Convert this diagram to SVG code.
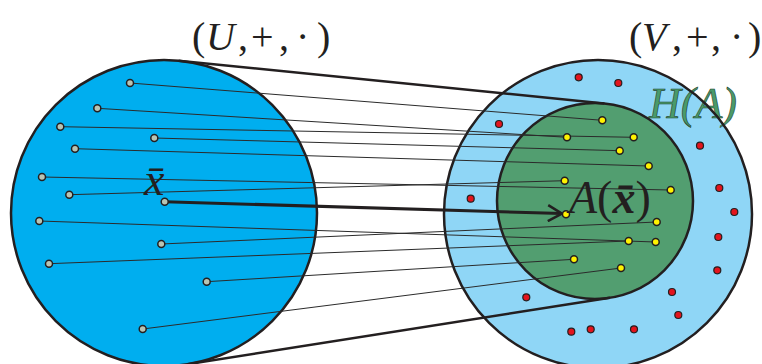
<svg xmlns="http://www.w3.org/2000/svg" width="762" height="364" viewBox="0 0 762 364">
<style>
.ol{fill:none;stroke:#231f20;stroke-width:2.5}
.ln{stroke:#2b2b2b;stroke-width:1;fill:none}
.tl{stroke:#231f20;stroke-width:2.5;fill:none}
.g{fill:#b8c4b4;stroke:#231f20;stroke-width:1.5}
.y{fill:#fff200;stroke:#231f20;stroke-width:1.5}
.r{fill:#e3141c;stroke:#231f20;stroke-width:1.2}
.t{font-family:"Liberation Serif","Times New Roman",serif;fill:#231f20}
.i{font-style:italic}
</style>
<defs>
<marker id="ah" viewBox="0 0 16 18" refX="15" refY="9" markerWidth="16" markerHeight="18" markerUnits="userSpaceOnUse" orient="auto">
<path d="M1,1 L15,9 L1,17" fill="none" stroke="#231f20" stroke-width="2.5"/>
</marker>
</defs>
<g id="U-fill"><circle cx="164" cy="213" r="153" fill="#00aeef"/></g>
<g id="V-fill"><circle cx="598" cy="214" r="154" fill="#8fd6f6"/></g>
<g id="HA-fill"><circle cx="595" cy="201" r="98" fill="#529e70"/></g>
<text class="t i" x="649" y="118" font-size="44" style="fill:#4a9a6a;stroke:#1d3b29;stroke-width:0.6">H(A)</text>
<g id="outlines">
<circle class="ol" cx="164" cy="213" r="153"/>
<circle class="ol" cx="598" cy="214" r="154"/>
<circle class="ol" cx="595" cy="201" r="98"/>
</g>
<g id="connectors">
<line class="tl" x1="178.7" y1="60.7" x2="604.4" y2="103.5"/>
<line class="tl" x1="187.7" y1="364.2" x2="610" y2="297.8"/>
<line class="ln" x1="130" y1="83" x2="602.3" y2="120.3"/>
<line class="ln" x1="97.3" y1="108.3" x2="567" y2="137.3"/>
<line class="ln" x1="60.3" y1="126.7" x2="633.7" y2="137.3"/>
<line class="ln" x1="154.3" y1="138" x2="619.7" y2="150.7"/>
<line class="ln" x1="75" y1="148.7" x2="648.7" y2="166"/>
<line class="ln" x1="42" y1="177" x2="670.7" y2="190"/>
<line class="ln" x1="69.3" y1="194.7" x2="564.7" y2="180.7"/>
<line class="ln" x1="39.3" y1="221" x2="655.7" y2="242"/>
<line class="ln" x1="161.3" y1="244" x2="656.7" y2="222"/>
<line class="ln" x1="49" y1="263.7" x2="628.7" y2="241"/>
<line class="ln" x1="206.7" y1="281.7" x2="574" y2="259.3"/>
<line class="ln" x1="142.7" y1="329" x2="621" y2="268"/>
<line stroke="#231f20" stroke-width="3" x1="164.7" y1="201.7" x2="562" y2="213.6" marker-end="url(#ah)"/>
</g>
<g id="U-points">
<circle class="g" cx="130" cy="83" r="3.5"/>
<circle class="g" cx="97.3" cy="108.3" r="3.5"/>
<circle class="g" cx="60.3" cy="126.7" r="3.5"/>
<circle class="g" cx="154.3" cy="138" r="3.5"/>
<circle class="g" cx="75" cy="148.7" r="3.5"/>
<circle class="g" cx="42" cy="177" r="3.5"/>
<circle class="g" cx="69.3" cy="194.7" r="3.5"/>
<circle class="g" cx="164.7" cy="201.7" r="3.5"/>
<circle class="g" cx="39.3" cy="221" r="3.5"/>
<circle class="g" cx="161.3" cy="244" r="3.5"/>
<circle class="g" cx="49" cy="263.7" r="3.5"/>
<circle class="g" cx="206.7" cy="281.7" r="3.5"/>
<circle class="g" cx="142.7" cy="329" r="3.5"/>
</g>
<g id="HA-points">
<circle class="y" cx="602.3" cy="120.3" r="3.5"/>
<circle class="y" cx="567" cy="137.3" r="3.5"/>
<circle class="y" cx="633.7" cy="137.3" r="3.5"/>
<circle class="y" cx="619.7" cy="150.7" r="3.5"/>
<circle class="y" cx="648.7" cy="166" r="3.5"/>
<circle class="y" cx="564.7" cy="180.7" r="3.5"/>
<circle class="y" cx="670.7" cy="190" r="3.5"/>
<circle class="y" cx="566" cy="214.3" r="3.5"/>
<circle class="y" cx="656.7" cy="222" r="3.5"/>
<circle class="y" cx="628.7" cy="241" r="3.5"/>
<circle class="y" cx="655.7" cy="242" r="3.5"/>
<circle class="y" cx="574" cy="259.3" r="3.5"/>
<circle class="y" cx="621" cy="268" r="3.5"/>
</g>
<g id="V-points">
<circle class="r" cx="578.7" cy="77.3" r="3.5"/>
<circle class="r" cx="618.3" cy="83" r="3.5"/>
<circle class="r" cx="499" cy="124" r="3.5"/>
<circle class="r" cx="700" cy="145.7" r="3.5"/>
<circle class="r" cx="470.7" cy="198.7" r="3.5"/>
<circle class="r" cx="719.3" cy="188" r="3.5"/>
<circle class="r" cx="734.3" cy="212" r="3.5"/>
<circle class="r" cx="718.3" cy="237" r="3.5"/>
<circle class="r" cx="717.3" cy="270.3" r="3.5"/>
<circle class="r" cx="526.3" cy="297.3" r="3.5"/>
<circle class="r" cx="672" cy="292" r="3.5"/>
<circle class="r" cx="678.3" cy="315" r="3.5"/>
<circle class="r" cx="571.3" cy="331.7" r="3.5"/>
<circle class="r" cx="590.7" cy="329.3" r="3.5"/>
<circle class="r" cx="634" cy="329.3" r="3.5"/>
</g>
<g id="labels">
<text class="t" y="50" font-size="40"><tspan x="192">(</tspan><tspan class="i" x="206">U</tspan><tspan x="238">,</tspan><tspan x="251">+</tspan><tspan x="279">,</tspan><tspan x="296">·</tspan><tspan x="317">)</tspan></text>
<text class="t" y="50" font-size="40"><tspan x="629">(</tspan><tspan class="i" x="642">V</tspan><tspan x="672">,</tspan><tspan x="686">+</tspan><tspan x="711">,</tspan><tspan x="730">·</tspan><tspan x="748">)</tspan></text>
<text class="t i" x="144" y="195" font-size="46">x̄</text>
<text class="t" x="569" y="213" font-size="46"><tspan class="i">A</tspan>(<tspan class="i" font-weight="bold">x̄</tspan>)</text>
</g>
</svg>
